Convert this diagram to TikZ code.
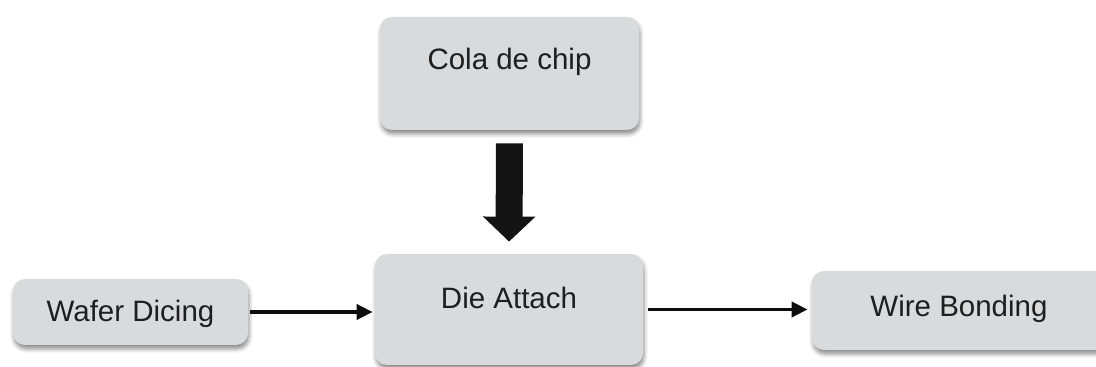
\documentclass[tikz,border=0pt]{standalone}
\usepackage{fontspec}
\setmainfont{Liberation Sans}
\usetikzlibrary{arrows.meta,shadows.blur}
\definecolor{boxgray}{HTML}{D9DADC}
\definecolor{inkgray}{HTML}{1E1E1E}
\begin{document}
\begin{tikzpicture}[x=0.5pt,y=-0.5pt,
        stage/.style={rectangle,rounded corners=6pt,fill=boxgray,text=inkgray,
          font=\fontsize{14.75}{17}\selectfont,text height=10.6pt,
          blur shadow={shadow xshift=0.5pt,shadow yshift=-2pt,
            shadow blur radius=2pt,shadow opacity=45}},
        flow/.style={line width=1.9pt,draw=black!95,-{Triangle[length=8pt,width=7.5pt]}},
        feed/.style={line width=13.5pt,draw=black!92,-{Triangle[length=12.5pt,width=25.5pt]}}]
        \useasboundingbox (0,0) rectangle (1096,367);
        % the four steps
        \node[stage,minimum width=129.5pt,minimum height=56.5pt,text depth=15pt] (cola) at (509.5,73.5) {Cola de chip};
        \node[stage,minimum width=134pt,minimum height=55.5pt,text depth=11.5pt] (attach) at (509,309.5) {Die Attach};
        \node[stage,minimum width=117.5pt,minimum height=33pt,text depth=1pt] (dicing) at (130.5,312) {Wafer Dicing};
        \node[stage,minimum width=154pt,minimum height=39.5pt,text depth=5pt] (bonding) at (966,310.5) {\hspace*{-7pt}Wire Bonding};
        % connectors
        \draw[feed,shorten <=6.5pt,shorten >=6pt] (cola.south) -- (attach.north);
        \draw[flow,shorten <=1pt,shorten >=1pt] (dicing.east) -- (dicing.east -| attach.west);
        \draw[flow,shorten <=2.5pt,shorten >=2pt] (attach.east) -- (attach.east -| bonding.west);
    \end{tikzpicture}
\end{document}
